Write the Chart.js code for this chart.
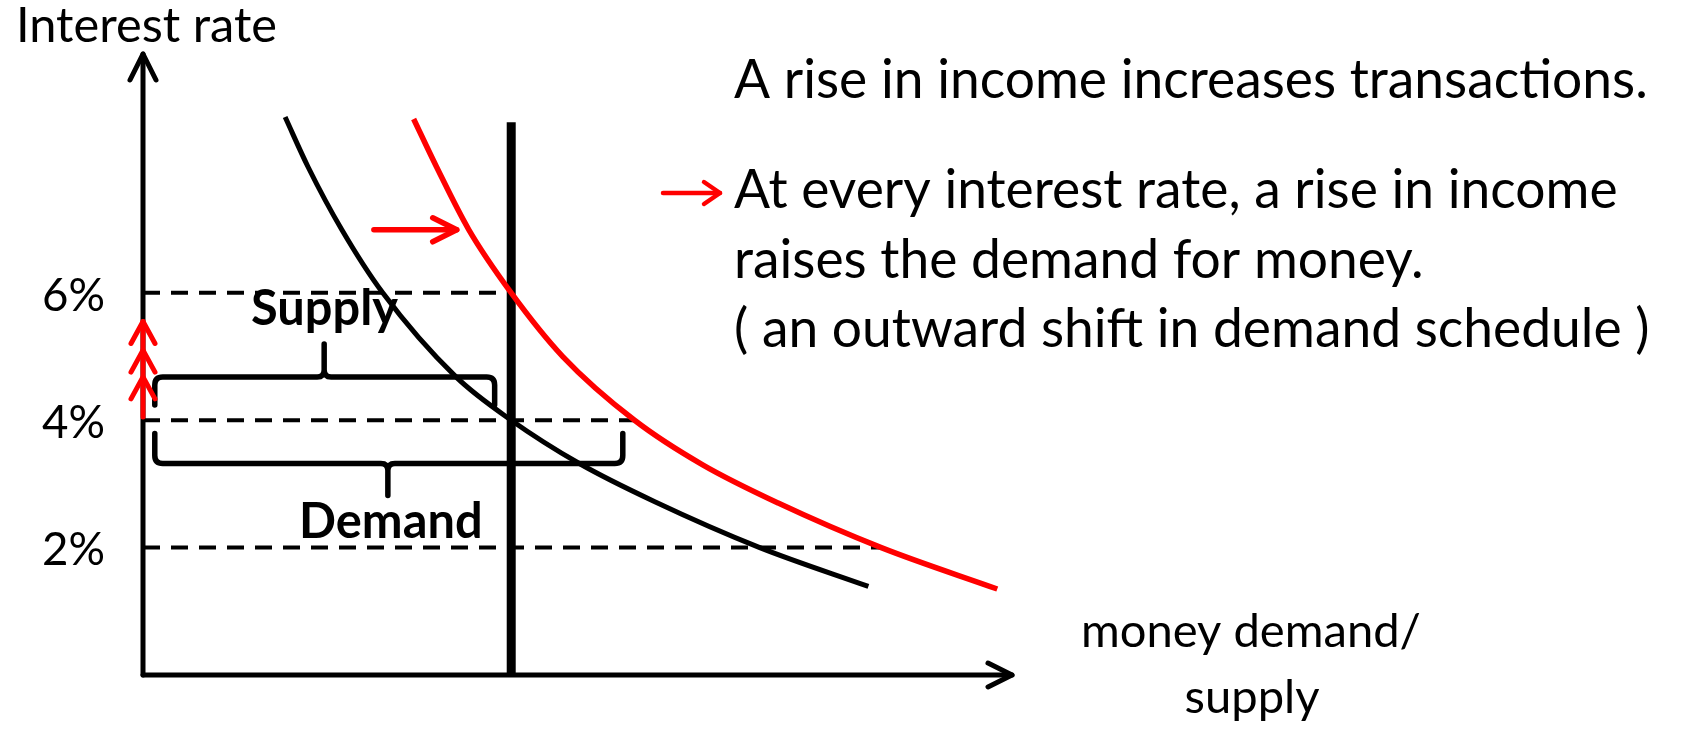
<!DOCTYPE html>
<html>
<head>
<meta charset="utf-8">
<script src="https://cdn.jsdelivr.net/npm/chart.js@4.4.0/dist/chart.umd.min.js"></script>
<style>
  html, body { margin: 0; padding: 0; background: #fff; }
  #wrap { position: relative; width: 1686px; height: 732px; }
</style>
</head>
<body>
<div id="wrap"><canvas id="money-chart"></canvas></div>
<script>
// x = quantity of money (supply = 100), y = interest rate in %
var demandX = [38.6, 44.8, 54, 65.1, 85, 100, 118.5, 139, 167.5, 197];
var demandY = [8.76, 7.98, 6.99, 6.0, 4.68, 4.0, 3.32, 2.72, 2.0, 1.39];
var newDemandX = [73.5, 79.7, 88.5, 100, 114, 133.5, 152, 172.5, 200.5, 232];
var newDemandY = [8.73, 7.98, 6.99, 6.0, 5.0, 4.0, 3.30, 2.70, 2.0, 1.35];
var supplyX = [100, 100];
var supplyY = [0, 8.68];
var rateLevels = [6, 4, 2];
var rateLineEnds = [100, 133.5, 200.5];
var yTicks = [2, 4, 6];
var yTickLabels = ['2%', '4%', '6%'];
var xMax = 236, yMax = 9.75;

var FONT = 'Lato';

function toPoints(xs, ys) {
  return xs.map(function (x, i) { return { x: x, y: ys[i] }; });
}

function fitSize(ctx, text, weight, target) {
  ctx.font = weight + ' 100px ' + FONT;
  return 100 * target / ctx.measureText(text).width;
}

var tmp = document.createElement('canvas').getContext('2d');
var tickSize = fitSize(tmp, '6%', 'normal', 63);

function chevron(ctx, x, y, ang, len, half) {
  var bx = x - Math.cos(ang) * len, by = y - Math.sin(ang) * len;
  var nx = -Math.sin(ang) * half, ny = Math.cos(ang) * half;
  ctx.beginPath();
  ctx.moveTo(bx + nx, by + ny);
  ctx.lineTo(x, y);
  ctx.lineTo(bx - nx, by - ny);
  ctx.stroke();
}

function arrow(ctx, x1, y1, x2, y2, len, half) {
  ctx.beginPath();
  ctx.moveTo(x1, y1);
  ctx.lineTo(x2, y2);
  ctx.stroke();
  chevron(ctx, x2, y2, Math.atan2(y2 - y1, x2 - x1), len, half);
}

// s = -1 : tip points up, hooks down ; s = 1 : tip down, hooks up
function brace(ctx, xa, xb, y, s, hook, tipX, tip) {
  var r = 8, k = 7;
  ctx.beginPath();
  ctx.moveTo(xa, y - s * hook);
  ctx.lineTo(xa, y - s * r);
  ctx.quadraticCurveTo(xa, y, xa + r, y);
  ctx.lineTo(tipX - k, y);
  ctx.quadraticCurveTo(tipX, y, tipX, y + s * k);
  ctx.lineTo(tipX, y + s * tip);
  ctx.moveTo(tipX, y + s * k);
  ctx.quadraticCurveTo(tipX, y, tipX + k, y);
  ctx.lineTo(xb - r, y);
  ctx.quadraticCurveTo(xb, y, xb, y - s * r);
  ctx.lineTo(xb, y - s * hook);
  ctx.stroke();
}

var decorations = {
  id: 'decorations',
  afterDatasetsDraw: function (chart) {
    var ctx = chart.ctx, xs = chart.scales.x, ys = chart.scales.y;
    var X = function (v) { return xs.getPixelForValue(v); };
    var Y = function (v) { return ys.getPixelForValue(v); };
    var x0 = X(0), y0 = Y(0);
    ctx.save();
    ctx.lineCap = 'round';
    ctx.lineJoin = 'round';

    // axes with arrow heads
    ctx.strokeStyle = '#000';
    ctx.lineWidth = 5;
    arrow(ctx, x0, y0, x0, Y(yMax), 26, 13);
    arrow(ctx, x0, y0, X(xMax), y0, 24, 12);

    // braces
    ctx.lineWidth = 5.5;
    brace(ctx, X(3.2), X(95.5), Y(4.68), -1, 28, X(49.2), 33);
    brace(ctx, X(3.2), X(130.3), Y(3.32), 1, 30, X(66.5), 32);

    ctx.fillStyle = '#000';
    ctx.textAlign = 'center';
    ctx.textBaseline = 'alphabetic';
    var bs = fitSize(ctx, 'Supply', 'bold', 147);
    ctx.font = 'bold ' + bs + 'px ' + FONT;
    ctx.fillText('Supply', X(49.3), Y(5.49));
    ctx.fillText('Demand', X(67.3), Y(2.15));

    // red arrows
    ctx.strokeStyle = '#ff0000';
    ctx.lineWidth = 5.5;
    arrow(ctx, X(62.7), Y(6.99), X(85.2), Y(6.99), 24, 12);
    ctx.lineWidth = 5;
    ctx.beginPath();
    ctx.moveTo(x0, Y(4.05));
    ctx.lineTo(x0, Y(5.55));
    ctx.stroke();
    [5.55, 5.1, 4.68].forEach(function (v) {
      chevron(ctx, x0, Y(v), -Math.PI / 2, 22, 12);
    });
    ctx.lineWidth = 4.5;
    arrow(ctx, 663, 193, 720, 193, 16, 11);

    // texts
    ctx.fillStyle = '#000';
    ctx.textAlign = 'left';
    var ts = fitSize(ctx, 'Interest rate', 'normal', 261);
    ctx.font = ts + 'px ' + FONT;
    ctx.fillText('Interest rate', 16, 42);

    var rs = fitSize(ctx, 'A rise in income increases transactions.', 'normal', 914);
    ctx.font = rs + 'px ' + FONT;
    ctx.fillText('A rise in income increases transactions.', 734, 98);
    ctx.fillText('At every interest rate, a rise in income', 734, 208);
    ctx.fillText('raises the demand for money.', 734, 278);
    ctx.fillText('( an outward shift in demand schedule )', 734, 347);

    ctx.textAlign = 'center';
    var ms = fitSize(ctx, 'money demand/', 'normal', 340);
    ctx.font = ms + 'px ' + FONT;
    ctx.fillText('money demand/', 1251, 647);
    ctx.fillText('supply', 1252, 713);
    ctx.restore();
  }
};

var datasets = [
  {
    label: 'Demand (higher income)',
    data: toPoints(newDemandX, newDemandY),
    borderColor: '#ff0000', borderWidth: 5.5, order: 1
  },
  {
    label: 'Demand',
    data: toPoints(demandX, demandY),
    borderColor: '#000', borderWidth: 5, order: 2
  },
  {
    label: 'Supply',
    data: toPoints(supplyX, supplyY),
    borderColor: '#000', borderWidth: 9, order: 3
  }
];
rateLevels.forEach(function (r, i) {
  datasets.push({
    label: r + '%',
    data: [{ x: 0, y: r }, { x: rateLineEnds[i], y: r }],
    borderColor: '#000', borderWidth: 4, borderDash: [17, 11], order: 4
  });
});
datasets.forEach(function (d) {
  d.showLine = true;
  d.pointRadius = 0;
  d.cubicInterpolationMode = 'monotone';
});

var ctx = document.getElementById('money-chart').getContext('2d');
var moneyChart = new Chart(ctx, {
  type: 'scatter',
  data: { datasets: datasets },
  plugins: [decorations],
  options: {
    responsive: true,
    maintainAspectRatio: false,
    animation: false,
    layout: { padding: { top: 54, right: 674, bottom: 57, left: 0 } },
    scales: {
      x: { type: 'linear', min: 0, max: xMax, display: false },
      y: {
        type: 'linear', min: 0, max: yMax,
        afterFit: function (s) {
          s.width = 143;
          s.paddingTop = 0;
          s.paddingBottom = 0;
        },
        afterBuildTicks: function (s) { s.ticks = yTicks.map(function (v) { return { value: v }; }); },
        grid: { display: false, drawTicks: false },
        border: { display: false },
        ticks: {
          autoSkip: false,
          padding: 38,
          labelOffset: 3,
          color: '#000',
          font: { family: FONT, size: tickSize },
          callback: function (v) { return yTickLabels[yTicks.indexOf(v)]; }
        }
      }
    },
    plugins: {
      legend: { display: false },
      tooltip: { enabled: false }
    }
  }
});
</script>
</body>
</html>
